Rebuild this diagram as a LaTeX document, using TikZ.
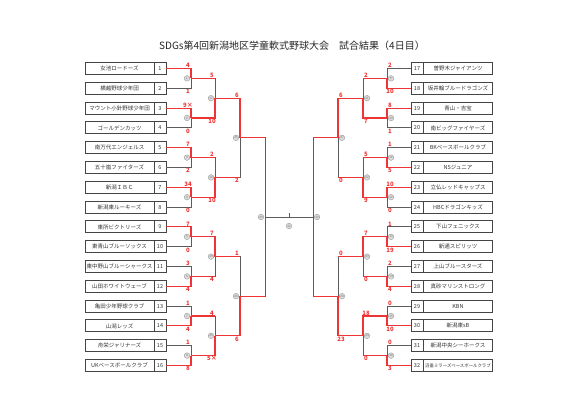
\documentclass[tikz,border=0pt]{standalone}
\usepackage{fontspec}
\newfontfamily\jpfont{Noto Sans CJK JP}
\usepackage{tikz}
\usetikzlibrary{positioning, calc}
\definecolor{winred}{HTML}{EE3535}
\definecolor{loseline}{HTML}{5C5C5C}
\definecolor{boxline}{HTML}{454545}
\definecolor{markgray}{HTML}{9A9A9A}

\begin{document}
\begin{tikzpicture}[x=1pt, y=-1pt,
  every node/.style={font=\jpfont},
  teambox/.style={draw=boxline, line width=0.9pt, minimum width=69pt, minimum height=12pt,
    inner sep=0pt, text=black!80, font=\jpfont\fontsize{5.5}{6}\selectfont},
  numbox/.style={draw=boxline, line width=0.9pt, minimum width=12pt, minimum height=12pt,
    inner sep=0pt, text=black!80, font=\jpfont\fontsize{5.5}{6}\selectfont},
  win/.style={draw=winred, line width=1.1pt},
  lose/.style={draw=loseline, line width=0.9pt},
  score/.style={text=winred, inner sep=0.3pt, font=\jpfont\bfseries\fontsize{6}{6}\selectfont},
  matchno/.style={circle, draw=markgray, fill=markgray!35, line width=0.4pt, minimum size=5.6pt,
    inner sep=0pt, text=black!55, font=\jpfont\fontsize{3}{3}\selectfont}]
  \useasboundingbox (0,0) rectangle (585,414);

  \node[text=black!85, font=\jpfont\fontsize{10}{12}\selectfont] (title) at (292,46)
    {SDGs第4回新潟地区学童軟式野球大会　試合結果（4日目）};

  % teams
  \foreach \i/\team in {1/女池ロードーズ, 2/横越野球少年団, 3/マウント小針野球少年団,
      4/ゴールデンカッツ, 5/南万代エンジェルス, 6/五十嵐ファイターズ, 7/新潟ＩＢＣ,
      8/新潟東ルーキーズ, 9/東所ビクトリーズ, 10/東青山ブルーソックス,
      11/東中野山ブルーシャークス, 12/山田ホワイトウェーブ, 13/亀田少年野球クラブ,
      14/山潟レッズ, 15/舟栄ジャリナーズ, 16/UKベースボールクラブ} {
    \pgfmathsetmacro\yy{68.5+(\i-1)*19.8}
    \node[teambox] (t\i) at (119.5,\yy) {\team};
    \node[numbox] (n\i) at (160,\yy) {\i};
  }
  \foreach \i/\team in {17/曽野木ジャイアンツ, 18/坂井輪ブルードラゴンズ, 19/青山・吉宝,
      20/南ビッグファイヤーズ, 21/BKベースボールクラブ, 22/NSジュニア,
      23/立仏レッドキャップス, 24/HBCドラゴンキッズ, 25/下山フェニックス,
      26/新通スピリッツ, 27/上山ブルースターズ, 28/真砂マリンストロング, 29/KBN,
      30/新潟東sB, 31/新潟中央シーホークス,
      32/{\fontsize{4.4}{5}\selectfont 沼垂ミラーズベースボールクラブ}} {
    \pgfmathsetmacro\yy{68.5+(\i-17)*19.8}
    \node[numbox] (n\i) at (417,\yy) {\i};
    \node[teambox] (t\i) at (458,\yy) {\team};
  }

  % bracket joints
  \foreach \k/\y in {1/78.4, 2/118.0, 3/157.6, 4/197.2, 5/236.8, 6/276.4, 7/316.0, 8/355.6} {
    \pgfmathtruncatemacro\r{\k+8}
    \coordinate (m\k) at (191,\y);
    \coordinate (m\r) at (387,\y);
  }
  \foreach \k/\y in {17/98.2, 18/177.4, 19/256.6, 20/335.8} {
    \pgfmathtruncatemacro\r{\k+4}
    \coordinate (m\k) at (215,\y);
    \coordinate (m\r) at (363,\y);
  }
  \coordinate (m25) at (240,137.8);
  \coordinate (m26) at (240,296.2);
  \coordinate (m27) at (338,137.8);
  \coordinate (m28) at (338,296.2);
  \coordinate (m29) at (265,217);
  \coordinate (m30) at (313,217);

  % first round, left
  \foreach \k/\sa/\sb/\w in {1/4/1/1, 2/9×/0/1, 3/7/2/1, 4/34/0/1,
      5/7/0/1, 6/3/4/2, 7/1/4/2, 8/1/8/2} {
    \pgfmathtruncatemacro\tup{2*\k-1}
    \pgfmathtruncatemacro\tdn{2*\k}
    \pgfmathtruncatemacro\twin{\w==1 ? \tup : \tdn}
    \pgfmathtruncatemacro\tlose{\w==1 ? \tdn : \tup}
    \draw[lose] (n\tlose.east) -| (m\k);
    \draw[win] (n\twin.east) -| (m\k);
    \node[matchno, anchor=east, xshift=-1pt] (c\k) at (m\k) {\k};
    \node[score, anchor=south, xshift=-3pt, yshift=0.4pt] (su\k) at (m\k |- n\tup.east) {\sa};
    \node[score, anchor=north, xshift=-3pt, yshift=-0.4pt] (sl\k) at (m\k |- n\tdn.east) {\sb};
  }
  % first round, right
  \foreach \k/\sa/\sb/\w in {9/2/10/2, 10/8/1/1, 11/1/5/2, 12/10/0/1,
      13/1/19/2, 14/2/4/2, 15/0/10/2, 16/0/3/2} {
    \pgfmathtruncatemacro\tup{2*\k-1}
    \pgfmathtruncatemacro\tdn{2*\k}
    \pgfmathtruncatemacro\twin{\w==1 ? \tup : \tdn}
    \pgfmathtruncatemacro\tlose{\w==1 ? \tdn : \tup}
    \draw[lose] (n\tlose.west) -| (m\k);
    \draw[win] (n\twin.west) -| (m\k);
    \node[matchno, anchor=west, xshift=1pt] (c\k) at (m\k) {\k};
    \node[score, anchor=south, xshift=3pt, yshift=0.4pt] (su\k) at (m\k |- n\tup.west) {\sa};
    \node[score, anchor=north, xshift=3pt, yshift=-0.4pt] (sl\k) at (m\k |- n\tdn.west) {\sb};
  }

  % later rounds, left
  \foreach \M/\A/\B/\sa/\sb/\w in {17/1/2/5/10/2, 18/3/4/2/10/2, 19/5/6/7/4/1,
      20/7/8/4/5×/2, 25/17/18/6/2/1, 26/19/20/1/6/2} {
    \pgfmathtruncatemacro\twin{\w==1 ? \A : \B}
    \pgfmathtruncatemacro\tlose{\w==1 ? \B : \A}
    \draw[lose] (m\tlose) -| (m\M);
    \draw[win] (m\tlose) -- (m\tlose -| m\M);
    \draw[win] (m\twin) -| (m\M);
    \node[matchno, anchor=east, xshift=-1pt] (c\M) at (m\M) {\M};
    \node[score, anchor=south, xshift=-3pt, yshift=0.4pt] (su\M) at (m\A -| m\M) {\sa};
    \node[score, anchor=north, xshift=-3pt, yshift=-0.4pt] (sl\M) at (m\B -| m\M) {\sb};
  }
  % later rounds, right
  \foreach \M/\A/\B/\sa/\sb/\w in {21/9/10/2/7/2, 22/11/12/5/9/2, 23/13/14/7/0/1,
      24/15/16/18/0/1, 27/21/22/6/0/1, 28/23/24/0/23/2} {
    \pgfmathtruncatemacro\twin{\w==1 ? \A : \B}
    \pgfmathtruncatemacro\tlose{\w==1 ? \B : \A}
    \draw[lose] (m\tlose) -| (m\M);
    \draw[win] (m\tlose) -- (m\tlose -| m\M);
    \draw[win] (m\twin) -| (m\M);
    \node[matchno, anchor=west, xshift=1pt] (c\M) at (m\M) {\M};
    \node[score, anchor=south, xshift=3pt, yshift=0.4pt] (su\M) at (m\A -| m\M) {\sa};
    \node[score, anchor=north, xshift=3pt, yshift=-0.4pt] (sl\M) at (m\B -| m\M) {\sb};
  }

  % semi-finals and final (not played yet)
  \draw[lose] (m25) -| (m29);
  \draw[lose] (m26) -| (m29);
  \draw[lose] (m27) -| (m30);
  \draw[lose] (m28) -| (m30);
  \draw[win] (m25) -- (m25 -| m29);
  \draw[win] (m26) -- (m26 -| m29);
  \draw[win] (m27) -- (m27 -| m30);
  \draw[win] (m28) -- (m28 -| m30);
  \draw[lose] (m29) -- (m30);
  \coordinate (mid) at ($(m29)!0.5!(m30)$);
  \coordinate (tick) at ($(mid)+(0,-3.7)$);
  \draw[lose] (mid) -- (tick);
  \node[matchno, anchor=east, xshift=-1pt] (c29) at (m29) {29};
  \node[matchno, anchor=west, xshift=1pt] (c30) at (m30) {30};
  \node[matchno] (c31) at ($(mid)+(0,9)$) {31};
\end{tikzpicture}
\end{document}
